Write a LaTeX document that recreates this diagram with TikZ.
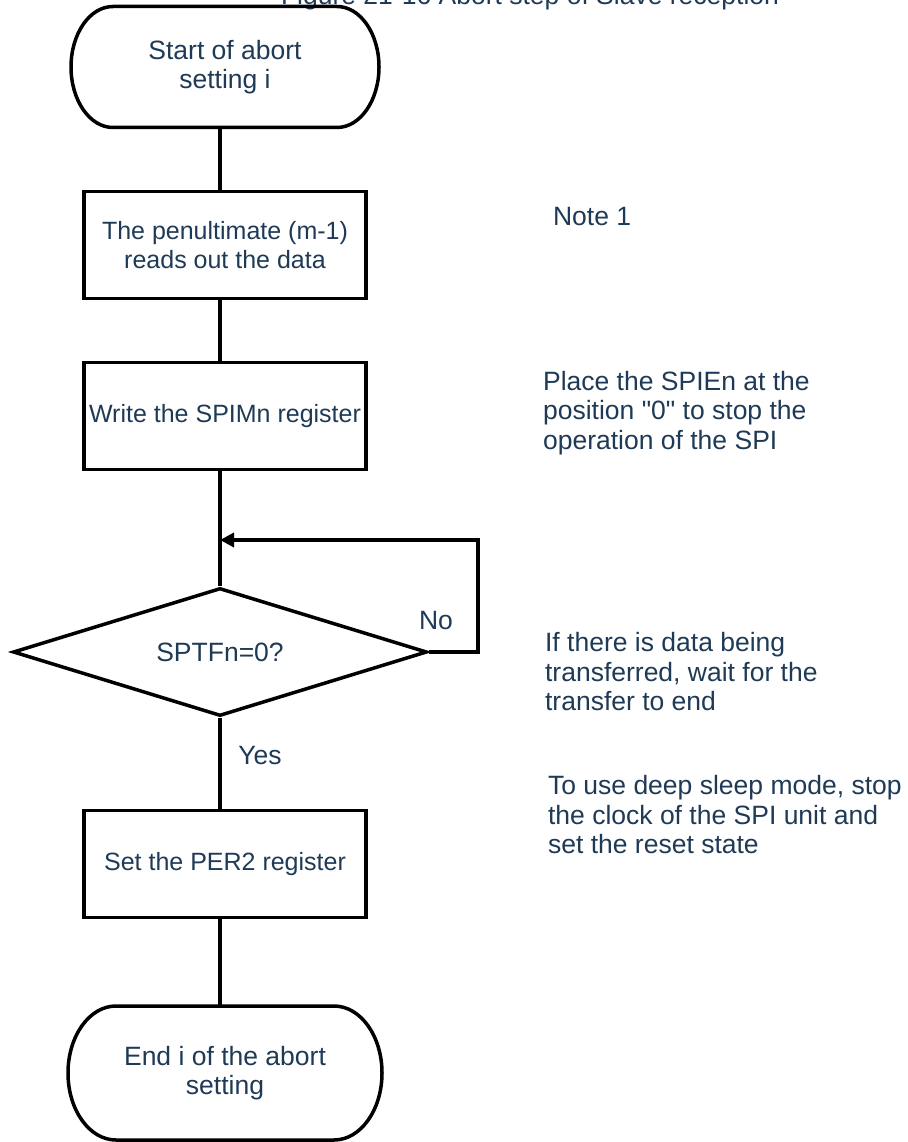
\documentclass[tikz,border=0pt]{standalone}
\usepackage{fontspec}
\setmainfont[Ligatures=TeXOff]{Liberation Sans}
\usetikzlibrary{arrows.meta, calc, positioning, shapes.geometric}
\definecolor{inkblue}{RGB}{31,58,86}

\begin{document}
\begin{tikzpicture}[x=1pt, y=-1pt, line width=3.5pt,
  every node/.style={text=inkblue, font=\fontsize{26.5}{29.5}\selectfont},
  term/.style={rectangle, outer sep=0pt, minimum width=308, minimum height=121, align=center},
  stepbox/.style={draw, rectangle, minimum width=282, minimum height=107, inner xsep=2pt, align=center, font=\fontsize{25}{29.5}\selectfont},
  test/.style={draw, diamond, aspect=3.2, minimum width=414, minimum height=128, inner sep=0pt},
  note/.style={anchor=west, align=left}]
\useasboundingbox (0,0) rectangle (907,1142);
\node[anchor=base] (title) at (530,5) {Figure 21-16 Abort step of Slave reception};
% flow
\node[term] (start) at (225,67) {Start of abort\\setting i};
\node[stepbox] (read) at (225,245) {The penultimate (m-1)\\reads out the data};
\node[stepbox] (spim) at (225,416) {Write the SPIMn register};
\node[test] (sptf) at (220,652) {SPTFn=0?};
\node[stepbox] (per) at (225,864) {Set the PER2 register};
\node[term, minimum width=314, minimum height=134] (stop) at (225,1073) {End i of the abort\\setting};
% terminal outlines, elliptic ends
\foreach \t/\rx/\ry in {start/42/60.5, stop/48/67}
  \draw ($(\t.north west)+(\rx,0)$) -- ($(\t.north east)+(-\rx,0)$)
    arc[start angle=-90, end angle=90, x radius=\rx, y radius=\ry]
    -- ($(\t.south west)+(\rx,0)$)
    arc[start angle=90, end angle=270, x radius=\rx, y radius=\ry] -- cycle;
\coordinate (back) at (220,540);
\draw (start.south -| sptf.north) -- (read.north -| sptf.north);
\draw (read.south -| sptf.north) -- (spim.north -| sptf.north);
\draw (spim.south -| sptf.north) -- (sptf);
\draw (sptf) -- (sptf.south |- per.north);
\draw (per.south -| sptf.south) -- (stop.north -| sptf.south);
\draw[-{Triangle[length=14pt, width=14pt]}] (sptf.east) -- ++(49,0) |- (back);
\node (no) at (436,621) {No};
\node (yes) at (260,756) {Yes};
% notes
\node[note] (n1) at (548,217) {Note 1};
\node[note] (n2) at (538,413) {Place the SPIEn at the\\position "0" to stop the\\operation of the SPI};
\node[note] (n3) at (540,672) {If there is data being\\transferred, wait for the\\transfer to end};
\node[note] (n4) at (543,815) {To use deep sleep mode, stop\\the clock of the SPI unit and\\set the reset state};
\end{tikzpicture}
\end{document}
